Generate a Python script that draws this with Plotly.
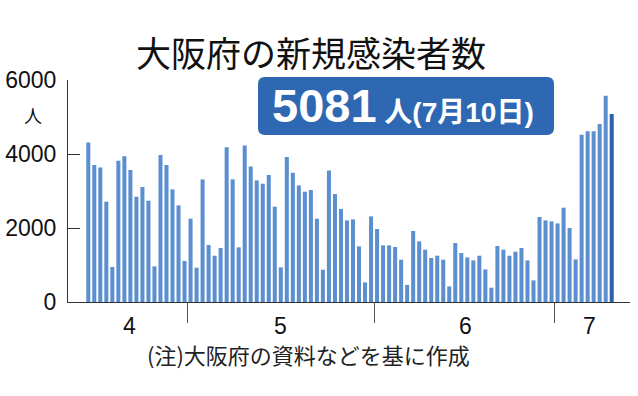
import plotly.graph_objects as go
import pandas as pd

# ---- data ----
dates = pd.date_range("2022-04-14", "2022-07-10", freq="D")
cases = [
    # April 14-30
    4314, 3703, 3638, 2711, 946, 3819, 3936, 3568, 2846, 3108, 2738, 963, 3973, 3703, 3044, 2611, 1108,
    # May
    2252, 927, 3314, 1541, 1251, 1459, 4180, 3314, 1477, 4233, 3665, 3287, 3198, 3433, 2576, 936,
    3919, 3495, 3152, 2981, 3027, 2252, 873, 3557, 2919, 2514, 2206, 2233, 1503, 530, 2314,
    # June
    1973, 1530, 1530, 1487, 1143, 459, 1919, 1638, 1414, 1189, 1251, 1143, 422, 1595, 1324,
    1205, 1124, 1251, 881, 387, 1514, 1414, 1251, 1360, 1459, 1124, 584, 2297, 2206, 2179,
    # July 1-10
    2125, 2549, 2000, 1152, 4522, 4612, 4612, 4811, 5576, 5081,
]
month_labels = ["4", "5", "6", "7"]
month_label_dates = ["2022-04-20 22:00", "2022-05-16 00:00", "2022-06-15 16:00", "2022-07-06 07:00"]
month_bounds = ["2022-04-30 12:00", "2022-05-31 12:00", "2022-06-30 12:00"]
y_ticks = [0, 2000, 4000, 6000]
y_tick_text = ["0", "2000", "4000", "6000"]
title_text = "大阪府の新規感染者数"
badge_value = "5081"
badge_suffix = "人(7月10日)"
note_text = "(注)大阪府の資料などを基に作成"

badge_text = ("<b><span style='font-size:47px'>" + badge_value + "</span>"
              "<span style='font-size:28px'> </span>"
              "<span style='font-size:28px'>" + badge_suffix + "</span></b>")

# ---- layout geometry ----
W, H = 638, 396
L, R, T, B = 68, 8, 80, 94
pw, ph = W - L - R, H - T - B

def px(x):
    return (x - L) / pw

def py(y):
    return (H - B - y) / ph

bar_color = "#5b8fd0"
hi_color = "#2c62ad"
colors = [bar_color] * (len(cases) - 1) + [hi_color]

fig = go.Figure(go.Bar(x=dates, y=cases, marker=dict(color=colors, line=dict(width=0))))

x0 = dates[0] - pd.Timedelta(days=3.37)
x1 = dates[-1] + pd.Timedelta(days=3.04)

num_font = "Liberation Sans Narrow, Liberation Sans, Arial, sans-serif"

fig.update_layout(
    width=W, height=H,
    margin=dict(l=L, r=R, t=T, b=B),
    paper_bgcolor="white", plot_bgcolor="white",
    bargap=0.33,
    showlegend=False,
    xaxis=dict(
        range=[x0, x1], showgrid=False, zeroline=False, automargin=False,
        showline=True, linecolor="#333", linewidth=1,
        tickvals=month_bounds, ticktext=["", "", ""],
        ticks="outside", ticklen=20, tickcolor="#555", tickwidth=1,
    ),
    yaxis=dict(
        range=[0, 6000], showgrid=False, zeroline=False, automargin=False,
        showline=True, linecolor="#333", linewidth=1,
        tickvals=y_ticks, ticktext=y_tick_text,
        ticks="inside", ticklen=12, tickcolor="#333", tickwidth=1,
        tickfont=dict(family=num_font, size=23, color="#111"),
        ticklabelstandoff=6,
    ),
)

# badge (rounded rectangle)
bx0, bx1, by0, by1 = px(258), px(554), py(135), py(77)
rx, ry = 7 / pw, 7 / ph
path = (f"M {bx0+rx},{by0} L {bx1-rx},{by0} Q {bx1},{by0} {bx1},{by0+ry} "
        f"L {bx1},{by1-ry} Q {bx1},{by1} {bx1-rx},{by1} L {bx0+rx},{by1} "
        f"Q {bx0},{by1} {bx0},{by1-ry} L {bx0},{by0+ry} Q {bx0},{by0} {bx0+rx},{by0} Z")
fig.add_shape(type="path", path=path, xref="paper", yref="paper",
              fillcolor="#2e68b2", line=dict(width=0), layer="above")

anns = [
    dict(text=title_text, x=px(311), y=py(51), font=dict(family="Noto Sans CJK JP", size=35, color="#111")),
    dict(text=badge_text, x=px(403), y=py(105),
         font=dict(family="Liberation Sans, Noto Sans CJK JP", size=28, color="white")),
    dict(text="人", x=px(33), y=py(115), font=dict(family="Noto Sans CJK JP", size=18, color="#111")),
    dict(text=note_text, x=px(308), y=py(354), font=dict(family="Noto Sans CJK JP", size=22, color="#222")),
]
for a in anns:
    fig.add_annotation(xref="paper", yref="paper", showarrow=False,
                       xanchor="center", yanchor="middle", **a)

for lab, d in zip(month_labels, month_label_dates):
    fig.add_annotation(text=lab, x=d, xref="x", y=py(326), yref="paper", showarrow=False,
                       xanchor="center", yanchor="middle",
                       font=dict(family=num_font, size=23, color="#111"))

fig.write_html("out.html")
